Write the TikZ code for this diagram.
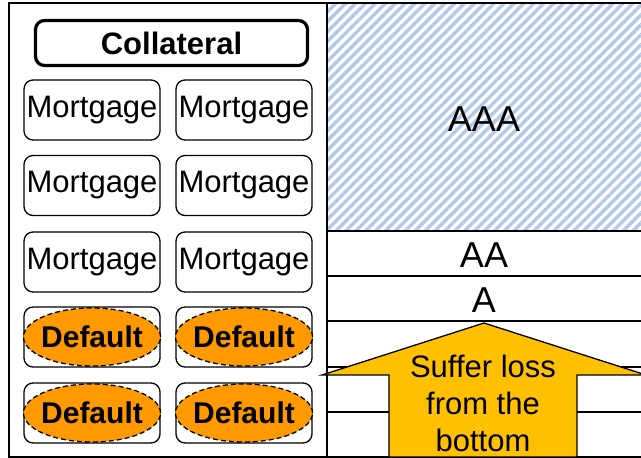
\documentclass[tikz,border=0pt]{standalone}
\usepackage{fontspec}
\setmainfont{Liberation Sans}
\usetikzlibrary{positioning,shapes.geometric,patterns.meta}
\definecolor{HatchBlue}{RGB}{180,200,236}
\definecolor{DefaultOrange}{RGB}{255,153,0}
\definecolor{LossGold}{RGB}{255,192,0}

\begin{document}
\begin{tikzpicture}[
    x=1pt,
    y=1pt,
    mbox/.style={
        draw,
        rounded corners=9pt,
        line width=1.3pt,
        minimum width=136pt,
        minimum height=60pt,
        inner sep=0pt,
        font=\fontsize{31}{37}\selectfont
    },
    dflt/.style={
        ellipse,
        draw,
        dash pattern=on 5pt off 3pt,
        line width=1.3pt,
        fill=DefaultOrange,
        minimum width=137pt,
        minimum height=58pt,
        inner xsep=-12pt,
        inner ysep=0pt,
        font=\fontsize{30}{36}\selectfont\bfseries
    },
    collat/.style={
        draw,
        rounded corners=9pt,
        line width=3.2pt,
        minimum width=272pt,
        minimum height=45pt,
        inner sep=0pt,
        font=\fontsize{31}{37}\selectfont\bfseries
    },
    tranche/.style={
        inner sep=0pt,
        font=\fontsize{36}{43}\selectfont
    },
    losstext/.style={
        align=center,
        inner sep=0pt,
        font=\fontsize{31}{37}\selectfont
    }
]
\useasboundingbox (0,0) rectangle (641,458);

% tranches
\fill[pattern={Lines[angle=45,distance=7pt,line width=3.4pt]}, pattern color=HatchBlue] (327,227) rectangle (645,455);
\draw[line width=1.3pt] (327,227) -- (645,227);
\draw[line width=1.3pt] (327,182) -- (645,182);
\draw[line width=1.3pt] (327,137) -- (645,137);
\draw[line width=1.3pt] (327,91) -- (645,91);
\draw[line width=1.3pt] (327,46) -- (645,46);

\node[tranche] (aaa) at (484,339) {AAA};
\node[tranche] (aa) at (484,203) {AA};
\node[tranche] (a) at (484,158) {A};

% frame
\draw[line width=1.3pt] (9,1) rectangle (645,455);
\draw[line width=1.3pt] (327,1) -- (327,455);

% collateral pool
\node[collat] (collateral) at (171.5,415) {Collateral};

\node[mbox] (mortA1) at (92,348) {Mortgage};
\node[mbox] (mortA2) at (244,348) {Mortgage};
\node[mbox] (mortB1) at (92,272.5) {Mortgage};
\node[mbox] (mortB2) at (244,272.5) {Mortgage};
\node[mbox] (mortC1) at (92,196) {Mortgage};
\node[mbox] (mortC2) at (244,196) {Mortgage};

\node[mbox] (mortD1) at (92,121) {};
\node[mbox] (mortD2) at (244,121) {};
\node[mbox] (mortE1) at (92,45) {};
\node[mbox] (mortE2) at (244,45) {};
\node[dflt] (defD1) at (mortD1) {Default};
\node[dflt] (defD2) at (mortD2) {Default};
\node[dflt] (defE1) at (mortE1) {Default};
\node[dflt] (defE2) at (mortE2) {Default};

% loss arrow
\filldraw[fill=LossGold, line width=1.3pt] (389,1) -- (389,83) -- (322,83) -- (484,135) -- (646,83) -- (577,83) -- (577,1) -- cycle;
\node[losstext] (loss) at (483,55) {Suffer loss\\from the\\bottom};

\end{tikzpicture}
\end{document}
